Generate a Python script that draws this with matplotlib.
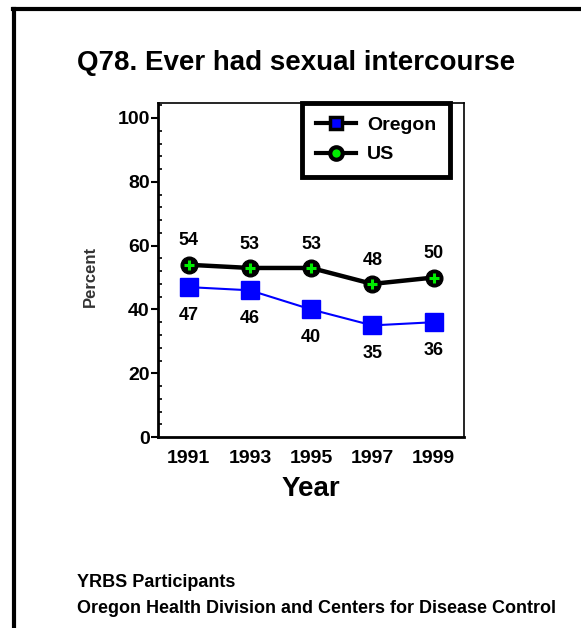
import numpy as np
from matplotlib import pyplot as plt
from matplotlib.lines import Line2D
from matplotlib.ticker import MultipleLocator

years = [1991, 1993, 1995, 1997, 1999]
oregon = [47, 46, 40, 35, 36]
us = [54, 53, 53, 48, 50]

plt.rcParams["font.family"] = ["Liberation Sans", "DejaVu Sans"]
plt.rcParams["font.weight"] = "bold"

fig = plt.figure(figsize=(5.81, 6.28), dpi=100)

# page frame (left and top edges visible)
fig.add_artist(Line2D([0.024, 0.024], [0.0, 0.986], transform=fig.transFigure, color="black", lw=3))
fig.add_artist(Line2D([0.022, 1.0], [0.986, 0.986], transform=fig.transFigure, color="black", lw=3))

ax = fig.add_axes([0.272, 0.304, 0.527, 0.532])

ax.plot(years, oregon, color="#0000ff", lw=1.5, marker="s", ms=13, mfc="#0000ff", mec="#0000ff", zorder=3)
ax.plot(years, us, color="black", lw=3.2, marker="o", ms=12, mfc="black", mec="black", zorder=3)
ax.plot(years, us, ls="none", marker="+", ms=6.5, mew=2.2, color="#00ee00", zorder=4)

for x, v in zip(years, us):
    ax.annotate(str(v), xy=(x, v), xytext=(0, 11), textcoords="offset points", ha="center", va="bottom",
                fontsize=13, fontweight="bold")
for x, v in zip(years, oregon):
    ax.annotate(str(v), xy=(x, v), xytext=(0, -14), textcoords="offset points", ha="center", va="top",
                fontsize=13, fontweight="bold")

ax.set_xlim(1990, 2000)
ax.set_ylim(0, 104.7)
ax.set_xticks(years)
ax.set_xticklabels([str(y) for y in years])
ax.set_yticks([0, 20, 40, 60, 80, 100])
ax.yaxis.set_minor_locator(MultipleLocator(4))
ax.tick_params(axis="x", length=0, labelsize=14, pad=9)
ax.tick_params(axis="y", which="major", direction="out", length=5, width=1.5, labelsize=14, pad=1)
ax.tick_params(axis="y", which="minor", direction="in", length=3, width=1.2)
for lbl in ax.get_xticklabels() + ax.get_yticklabels():
    lbl.set_fontweight("bold")

for side in ["left", "bottom"]:
    ax.spines[side].set_linewidth(2)
for side in ["top", "right"]:
    ax.spines[side].set_linewidth(1.2)

ax.set_xlabel("Year", fontsize=20, fontweight="bold", labelpad=7)
ax.set_ylabel("Percent", fontsize=12, fontweight="bold", color="#333333")
ax.yaxis.set_label_coords(-0.22, 0.48)
ax.yaxis.label.set_verticalalignment("center")

handles = [
    Line2D([], [], color="black", lw=3, marker="s", ms=9, mfc="#0000ff", mec="black", mew=2.5),
    Line2D([], [], color="black", lw=3, marker="o", ms=9, mfc="#00ee00", mec="black", mew=3),
]
leg = ax.legend(handles, ["Oregon", "US"], loc="upper left", bbox_to_anchor=(0.47, 1.0), borderaxespad=0,
                fancybox=False, edgecolor="black", framealpha=1, prop={"size": 14, "weight": "bold"},
                handlelength=2.1, labelspacing=0.6, borderpad=0.7, handletextpad=0.55)
leg.get_frame().set_linewidth(3.5)

fig.text(0.133, 0.8885, "Q78. Ever had sexual intercourse", fontsize=20, fontweight="bold", ha="left",
         va="baseline")
fig.text(0.133, 0.0653, "YRBS Participants", fontsize=13, fontweight="bold", ha="left", va="baseline")
fig.text(0.133, 0.0239, "Oregon Health Division and Centers for Disease Control", fontsize=13, fontweight="bold",
         ha="left", va="baseline")

fig.savefig("out.png", dpi=100)
